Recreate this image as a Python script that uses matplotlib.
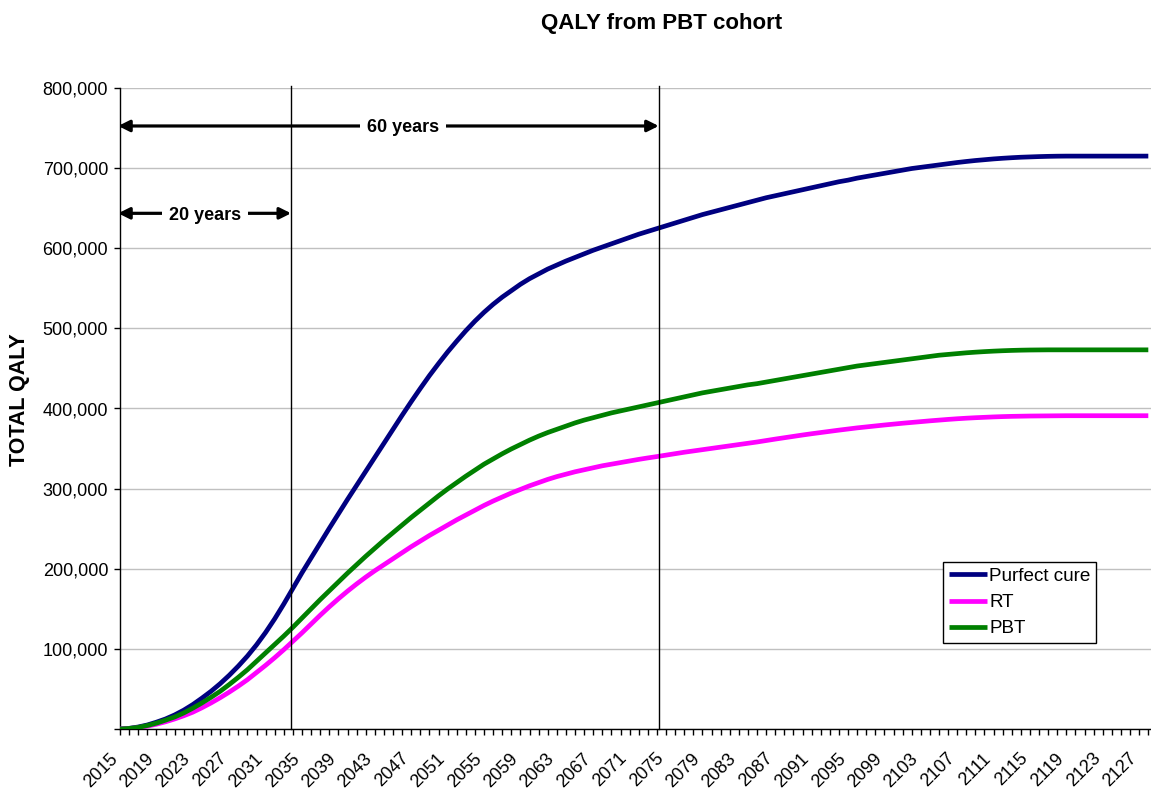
import numpy as np
import matplotlib
matplotlib.use('Agg')
import matplotlib.pyplot as plt
from matplotlib.ticker import FixedLocator, FuncFormatter, MultipleLocator
from matplotlib.transforms import ScaledTranslation

plt.rcParams['font.family'] = ['Liberation Sans', 'DejaVu Sans']

# ---------------- data (thousands of QALY) ----------------
years = list(range(2015, 2129))

purfect_cure_k = [
    0, 0.8, 2.5, 5, 8.5, 12.5, 17.5, 23.5, 30.5, 38.5,
    47, 56.5, 67, 78.5, 91, 105, 120.5, 137.5, 156, 175.5,
    195, 213.5, 232, 250.5, 268.5, 286.5, 304, 321.5, 339, 356.5,
    374, 391.5, 408.5, 425, 441, 456, 470.5, 484, 497, 509,
    520, 530, 539, 547, 555, 562, 568, 574, 579, 584,
    588.5, 593, 597.5, 601.5, 605.5, 609.5, 613.5, 617.5, 621, 624.5,
    628, 631.5, 635, 638.5, 642, 645, 648, 651, 654, 657,
    660, 663, 665.5, 668, 670.5, 673, 675.5, 678, 680.5, 683,
    685, 687.5, 689.5, 691.5, 693.5, 695.5, 697.5, 699.5, 701, 702.5,
    704, 705.5, 707, 708.3, 709.5, 710.5, 711.5, 712.3, 713, 713.6,
    714, 714.4, 714.7, 714.9, 715, 715, 715, 715, 715, 715,
    715, 715, 715, 715,
]

rt_k = [
    0, 0.5, 1.6, 3.5, 6, 9, 12.5, 16.5, 21, 26.5,
    32.5, 39, 46, 53.5, 61.5, 70.5, 79.5, 89, 99, 109.5,
    120, 131, 142, 152.5, 162.5, 172, 181, 189.5, 197.5, 205,
    212.5, 220, 227.5, 234.5, 241.5, 248, 254.5, 261, 267, 273,
    279, 284.5, 289.5, 294.5, 299, 303.5, 307.5, 311.5, 315, 318,
    321, 323.5, 326, 328.5, 330.5, 332.5, 334.5, 336.5, 338.3, 340,
    341.8, 343.6, 345.4, 347, 348.6, 350.2, 351.8, 353.4, 355, 356.6,
    358.2, 360, 361.8, 363.5, 365.2, 366.9, 368.5, 370, 371.5, 373,
    374.4, 375.8, 377, 378.2, 379.4, 380.5, 381.6, 382.6, 383.6, 384.6,
    385.5, 386.4, 387.2, 387.9, 388.5, 389, 389.5, 389.9, 390.2, 390.4,
    390.6, 390.7, 390.8, 390.9, 391, 391, 391, 391, 391, 391,
    391, 391, 391, 391,
]

pbt_k = [
    0, 0.7, 2, 4.3, 7.3, 11, 15, 20, 26, 32.5,
    39.5, 47, 55.5, 64.5, 74, 84.5, 95, 105.5, 116, 127,
    138.5, 150, 161.5, 172.5, 183.5, 194.5, 205, 215.5, 225.5, 235.5,
    245, 254.5, 264, 273, 282, 291, 299.5, 307.5, 315.5, 323,
    330.5, 337, 343.5, 349.5, 355, 360.5, 365.5, 370, 374, 378,
    382, 385.5, 388.5, 391.5, 394.5, 397, 399.5, 402, 404.5, 407,
    409.5, 412, 414.5, 417, 419.5, 421.5, 423.5, 425.5, 427.5, 429.5,
    431, 433, 435, 437, 439, 441, 443, 445, 447, 449,
    451, 453, 454.5, 456, 457.5, 459, 460.5, 462, 463.5, 465,
    466.5, 467.5, 468.5, 469.5, 470.3, 471, 471.6, 472.1, 472.5, 472.8,
    473, 473.1, 473.2, 473.2, 473.2, 473.2, 473.2, 473.2, 473.2, 473.2,
    473.2, 473.2, 473.2, 473.2,
]

series_names = ['Purfect cure', 'RT', 'PBT']
series_colors = ['#000080', '#FF00FF', '#008000']
series_values = [purfect_cure_k, rt_k, pbt_k]

marker_years = [2033.8, 2074.2]          # hand-drawn vertical lines
span_labels = ['20 years', '60 years']
span_label_x = [2024.3, 2046.1]
span_arrow_y = [643600, 752600]

y_ticks = list(range(0, 800001, 100000))
x_label_years = list(range(2015, 2128, 4))

# ---------------- figure ----------------
W, H = 1151, 790
fig = plt.figure(figsize=(W / 100, H / 100), dpi=100)
ax = fig.add_axes([120 / W, 1 - 729 / H, 1031 / W, 641 / H])

for name, col, vals in zip(series_names, series_colors, series_values):
    ax.plot(years, np.array(vals) * 1000, color=col, lw=3.4, label=name,
            solid_capstyle='butt', solid_joinstyle='round', zorder=3)

ax.set_xlim(2015, 2015 + 1031 / 9.1)
ax.set_ylim(0, 800000)

# y axis
ax.yaxis.set_major_locator(FixedLocator(y_ticks))
ax.yaxis.set_major_formatter(FuncFormatter(lambda v, p: '' if v == 0 else f'{int(v):,}'))
ax.yaxis.grid(True, color='#c0c0c0', lw=1.0)
ax.set_axisbelow(True)

# x axis
ax.xaxis.set_major_locator(FixedLocator(x_label_years))
ax.xaxis.set_minor_locator(MultipleLocator(1))
ax.set_xticklabels([str(y) for y in x_label_years], rotation=45, ha='right',
                   rotation_mode='anchor')
ax.tick_params(axis='both', which='both', direction='out', length=4.5,
               width=1, color='black', labelsize=13, labelcolor='black')
ax.tick_params(axis='x', which='major', pad=7)
ax.tick_params(axis='y', pad=4)
shift = ScaledTranslation(-11 / 100, -5 / 100, fig.dpi_scale_trans)
for lab in ax.get_xticklabels():
    lab.set_transform(lab.get_transform() + shift)

for s in ['top', 'right']:
    ax.spines[s].set_visible(False)
for s in ['left', 'bottom']:
    ax.spines[s].set_color('black')
    ax.spines[s].set_linewidth(1.0)

# vertical marker lines
for xm in marker_years:
    ax.plot([xm, xm], [0, 1.003], transform=ax.get_xaxis_transform(), color='black',
            lw=1.0, zorder=4, clip_on=False)

# span arrows and labels
for xr, lab, lx, yy in zip(marker_years, span_labels, span_label_x, span_arrow_y):
    ax.annotate('', xy=(2014.8, yy), xytext=(xr, yy),
                arrowprops=dict(arrowstyle='<|-|>', color='black', lw=2.3,
                                mutation_scale=17, shrinkA=0, shrinkB=0),
                zorder=5, annotation_clip=False)
    ax.text(lx, yy - 2500, lab, ha='center', va='center', fontsize=13, fontweight='bold',
            zorder=6, bbox=dict(facecolor='white', edgecolor='none', pad=5))

# titles
fig.text(662 / W, 1 - 23 / H, 'QALY from PBT cohort', ha='center', va='center',
         fontsize=16, fontweight='bold')
fig.text(20 / W, 1 - 400 / H, 'TOTAL QALY', rotation=90, ha='center', va='center',
         fontsize=15.5, fontweight='bold')

# legend
leg = ax.legend(loc='upper left', bbox_to_anchor=((943 - 120) / 1031, (729 - 562) / 641),
                borderaxespad=0, fontsize=13.6, frameon=True, fancybox=False,
                edgecolor='black', framealpha=1, handlelength=2.05,
                handletextpad=0.1, borderpad=0.3, labelspacing=0.48)
leg.get_frame().set_linewidth(1.0)
for line in leg.get_lines():
    line.set_linewidth(3.4)

fig.savefig('out.png', dpi=100)
